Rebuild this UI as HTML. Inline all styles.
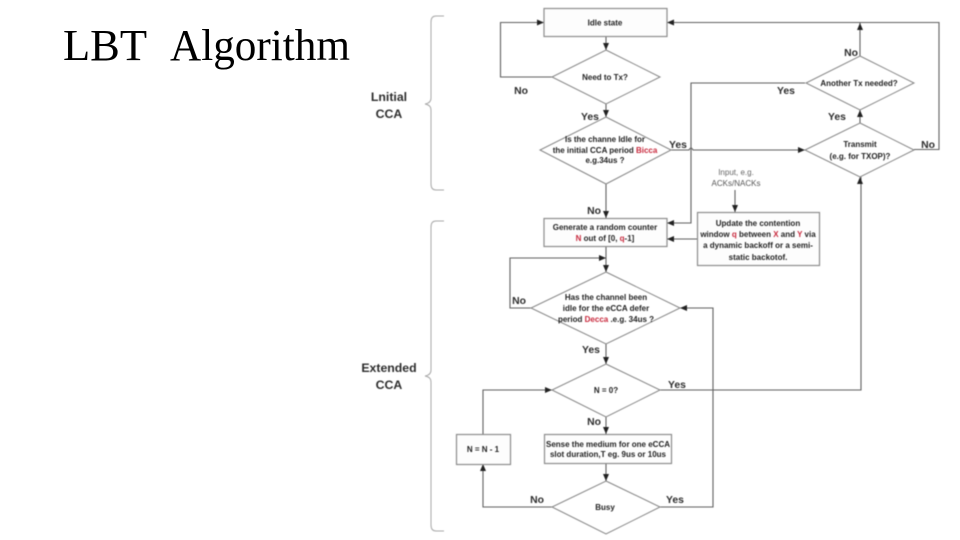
<!DOCTYPE html>
<html>
<head>
<meta charset="utf-8">
<style>
html,body{margin:0;padding:0;background:#fff;width:960px;height:540px;overflow:hidden}
svg{position:absolute;left:0;top:0}
.d{filter:blur(0.45px)}
.l{fill:none;stroke:#606060;stroke-width:1.1}
.s{fill:#fff;stroke:#858585;stroke-width:1}
.b{fill:#fdfdfd;stroke:#8c8c8c;stroke-width:1.2}
.br{fill:none;stroke:#a8a8a8;stroke-width:1}
text{font-family:"Liberation Sans",sans-serif}
.t{font-size:8px;font-weight:bold;fill:#222;text-anchor:middle}
.y{font-size:10.4px;font-weight:bold;fill:#2c2c2c;text-anchor:middle}
.g{font-size:12.3px;font-weight:bold;fill:#2c2c2c;text-anchor:middle}
.r{fill:#c8283c}
</style>
</head>
<body>
<svg width="960" height="540" viewBox="0 0 960 540" xmlns="http://www.w3.org/2000/svg">
<text x="63" y="60" style="font-family:'Liberation Serif',serif;font-size:44.5px;fill:#000">LBT</text>
<text x="170" y="60" textLength="180" lengthAdjust="spacingAndGlyphs" style="font-family:'Liberation Serif',serif;font-size:44.5px;fill:#000">Algorithm</text>
<g class="d">
<path class="br" d="M444 16H436Q431 16 431 22V98Q431 103 425 104Q431 105 431 110V184Q431 190 436 190H444"/>
<path class="br" d="M444 221H436Q431 221 431 227V370Q431 375 425 376Q431 377 431 382V525Q431 531 436 531H444"/>
<text class="g" x="389" y="101">Lnitial</text>
<text class="g" x="389" y="118">CCA</text>
<text class="g" x="389" y="372">Extended</text>
<text class="g" x="389" y="389">CCA</text>

<path class="l" d="M606 37V50M552 77H500.500V22.500H544M606 104V117M606 184V218M606 247V272M606 344V364M606 417V434M606 463V481"/>
<path class="l" d="M606 258H510V308H531"/>
<path class="l" d="M670 150H689Q691 146 693 150H805"/>
<path class="l" d="M805 83H691V223H667"/>
<path class="l" d="M697 239H667"/>
<path class="l" d="M735 190V212"/>
<path class="l" d="M860 123V110M860 56V22.500H667M860 22.500H939V149.500H914"/>
<path class="l" d="M660 390H861V177"/>
<path class="l" d="M660 507H713V308H680"/>
<path class="l" d="M552 507H483V464M483 434V390H552"/>

<g fill="#222">
<path d="M544 22.500l-7-3v6z"/>
<path d="M667 22.500l7-3v6z"/>
<path d="M606 50l-3-7h6z"/>
<path d="M606 117l-3-7h6z"/>
<path d="M606 218l-3-7h6z"/>
<path d="M606 272l-3-7h6z"/>
<path d="M606 258l-7-3v6z"/>
<path d="M606 364l-3-7h6z"/>
<path d="M606 434l-3-7h6z"/>
<path d="M606 481l-3-7h6z"/>
<path d="M667 223l7-3v6z"/>
<path d="M667 239l7-3v6z"/>
<path d="M735 212l-3-7h6z"/>
<path d="M805 150l-7-3v6z"/>
<path d="M860 23l-3 7h6z"/>
<path d="M860 110l-3 7h6z"/>
<path d="M860 177l-3 7h6z"/>
<path d="M680 308l7-3v6z"/>
<path d="M552 390l-7-3v6z"/>
<path d="M483 464l-3 7h6z"/>
</g>

<rect class="b" x="544" y="8.500" width="123" height="28"/>
<rect class="b" x="544" y="218.500" width="123" height="28"/>
<rect class="b" x="697.500" y="212.500" width="122" height="53"/>
<rect class="b" x="544.500" y="434.500" width="127" height="29"/>
<rect class="b" x="456.500" y="434.500" width="54" height="30"/>

<polygon class="s" points="606,50 660,77 606,104 552,77"/>
<polygon class="s" points="606,117 671,150 606,184 540,150"/>
<polygon class="s" points="606,272 680,308 606,344 531,308"/>
<polygon class="s" points="606,364 660,390 606,417 552,390"/>
<polygon class="s" points="606,481 660,507 606,534 552,507"/>
<polygon class="s" points="860,56 914,83 860,110 806,83"/>
<polygon class="s" points="860,123 914,150 860,177 805,150"/>

<text class="t" x="605" y="25.500">Idle state</text>
<text class="t" x="605" y="80">Need to Tx?</text>
<text class="t" x="605" y="142">Is the channe Idle for</text>
<text class="t" x="605" y="153">the initial CCA period <tspan class="r">Bicca</tspan></text>
<text class="t" x="605" y="163">e.g.34us ?</text>
<text class="t" x="605" y="230">Generate a random counter</text>
<text class="t" x="605" y="241"><tspan class="r">N</tspan> out of  [0, <tspan class="r">q</tspan>-1]</text>
<text class="t" x="606" y="300">Has the channel been</text>
<text class="t" x="606" y="311">idle for the eCCA defer</text>
<text class="t" x="606" y="322">period <tspan class="r">Decca</tspan> .e.g. 34us ?</text>
<text class="t" x="606" y="393">N = 0?</text>
<text class="t" x="608" y="447">Sense the medium for one eCCA</text>
<text class="t" x="608" y="457">slot duration,T eg. 9us or 10us</text>
<text class="t" x="605" y="510">Busy</text>
<text class="t" x="483" y="452">N = N - 1</text>
<text class="t" x="859" y="86">Another Tx needed?</text>
<text class="t" x="860" y="147">Transmit</text>
<text class="t" x="860" y="159">(e.g. for TXOP)?</text>
<text class="t" x="758" y="226">Update the contention</text>
<text class="t" x="758" y="237">window <tspan class="r">q</tspan> between <tspan class="r">X</tspan> and <tspan class="r">Y</tspan> via</text>
<text class="t" x="758" y="248">a dynamic backoff or a semi-</text>
<text class="t" x="758" y="260">static backotof.</text>
<text x="736" y="175" style="font-size:8px;fill:#666;text-anchor:middle">Input, e.g.</text>
<text x="736" y="186" style="font-size:8px;fill:#555;text-anchor:middle">ACKs/NACKs</text>

<text class="y" x="521" y="94">No</text>
<text class="y" x="590" y="120">Yes</text>
<text class="y" x="678" y="148">Yes</text>
<text class="y" x="594" y="214">No</text>
<text class="y" x="786" y="94">Yes</text>
<text class="y" x="851" y="56">No</text>
<text class="y" x="837" y="120">Yes</text>
<text class="y" x="928" y="148">No</text>
<text class="y" x="519" y="304">No</text>
<text class="y" x="591" y="353">Yes</text>
<text class="y" x="677" y="388">Yes</text>
<text class="y" x="594" y="425">No</text>
<text class="y" x="537" y="503">No</text>
<text class="y" x="675" y="503">Yes</text>
</g>
</svg>
</body>
</html>
